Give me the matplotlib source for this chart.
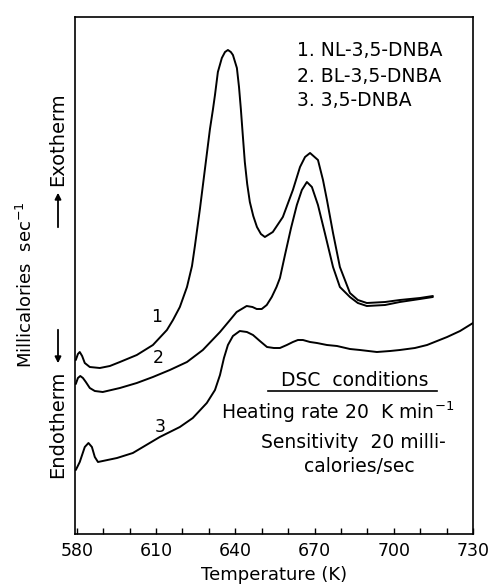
import matplotlib
matplotlib.use("Agg")
import matplotlib.pyplot as plt
from matplotlib.patches import FancyArrowPatch
from matplotlib.lines import Line2D
from matplotlib.ticker import MultipleLocator

# ---- data (temperature K, signal in arbitrary units) ----
t1 = [579.6, 580.4, 581.1, 582.0, 583.0, 584.9, 588.7, 592.5, 596.3, 602.7, 608.8, 614.1, 616.4,
      619.0, 621.7, 623.6, 624.7, 626.6, 628.5, 630.4, 631.5, 632.3, 633.4, 634.9, 636.1, 637.2,
      638.3, 639.1, 640.6, 641.4, 642.1, 642.8, 643.6, 644.5, 645.5, 646.8, 648.2, 649.7, 651.2,
      654.2, 658.0, 661.8, 664.5, 666.4, 668.3, 671.3, 673.2, 674.7, 677.0, 679.6, 683.4, 686.4,
      689.8, 696.7, 702.3, 709.9, 714.8]
y1 = [174, 180, 182, 178, 171, 167, 166, 168, 172, 179, 189, 204, 214,
      227, 247, 268, 288, 325, 365, 405, 424, 439, 462, 476, 482, 484,
      482, 479, 466, 447, 425, 400, 372, 350, 332, 318, 307, 300, 297,
      302, 317, 344, 367, 377, 381, 374, 354, 334, 301, 267, 241, 234,
      231, 232, 234, 236, 238]

t2 = [579.6, 580.4, 581.3, 582.3, 583.4, 584.9, 586.8, 589.8, 596.3, 602.7, 608.8, 615.2, 621.7,
      627.7, 634.2, 638.0, 640.5, 644.3, 646.5, 648.1, 650.0, 651.9, 653.8, 655.6, 656.9, 658.8,
      661.1, 663.3, 665.2, 667.1, 669.0, 671.3, 673.9, 677.0, 679.6, 683.4, 686.4, 689.8, 696.7,
      702.3, 709.9, 714.8]
y2 = [150, 156, 158, 156, 152, 146, 143, 142, 146, 151, 157, 164, 172,
      184, 202, 214, 222, 228, 227, 225, 225, 229, 237, 247, 256, 279,
      306, 329, 344, 352, 347, 329, 301, 267, 247, 237, 231, 228, 229,
      232, 235, 237]

t3 = [579.6, 581.1, 583.0, 584.4, 585.7, 586.8, 588.0, 595.2, 601.2, 611.4, 619.0, 623.9, 629.2,
      632.3, 634.2, 635.7, 637.2, 639.1, 641.7, 644.4, 646.7, 649.3, 652.0, 654.6, 656.9, 659.5,
      661.8, 663.7, 665.6, 668.3, 670.9, 674.7, 678.5, 683.4, 687.2, 693.6, 698.6, 702.3, 708.0,
      712.6, 720.2, 725.1, 730.0]
y3 = [64, 72, 87, 91, 87, 77, 72, 76, 81, 97, 107, 116, 131,
      144, 159, 176, 189, 198, 203, 202, 199, 193, 187, 186, 186, 189,
      192, 194, 194, 192, 191, 189, 188, 185, 184, 182, 183, 184, 186,
      189, 197, 203, 211]

curve_labels = ["1", "2", "3"]
curve_label_pos = [(610.3, 217), (610.7, 176), (611.4, 107)]
legend_lines = ["1. NL-3,5-DNBA", "2. BL-3,5-DNBA", "3. 3,5-DNBA"]
x_major = [580, 610, 640, 670, 700, 730]

W, H = 488, 585
fig = plt.figure(figsize=(W / 100, H / 100), dpi=100)
ax = fig.add_axes([75 / W, 1 - 534 / H, (473 - 75) / W, (534 - 17) / H])

for t, y in ((t1, y1), (t2, y2), (t3, y3)):
    ax.plot(t, y, color="black", lw=1.4, solid_joinstyle="round", solid_capstyle="round")

ax.set_xlim(579.3, 730)
ax.set_ylim(0, 517)
ax.set_xticks(x_major)
ax.xaxis.set_minor_locator(MultipleLocator(10))
ax.tick_params(axis="x", which="both", direction="in", length=4, width=1.0, top=False)
ax.tick_params(axis="x", which="major", labelsize=12.5, pad=6)
ax.set_yticks([])
for s in ax.spines.values():
    s.set_linewidth(1.2)


def fx(px):
    return px / W


def fy(py):
    return 1 - py / H


fig.text(fx(274), fy(575), "Temperature (K)", fontsize=13, ha="center", va="center")

for lab, (tx, ty) in zip(curve_labels, curve_label_pos):
    ax.text(tx, ty, lab, fontsize=12.5, ha="center", va="center")

for txt, py in zip(legend_lines, [50, 77, 100]):
    fig.text(fx(297), fy(py), txt, fontsize=13.5, ha="left", va="center")

fig.text(fx(355), fy(380), "DSC  conditions", fontsize=13.5, ha="center", va="center")
fig.add_artist(Line2D([fx(268), fx(437)], [fy(391), fy(391)], color="black", lw=1.2))
fig.text(fx(338), fy(412), r"Heating rate 20  K min$^{-1}$", fontsize=13.5, ha="center", va="center")
fig.text(fx(353), fy(442), "Sensitivity  20 milli-", fontsize=13.5, ha="center", va="center")
fig.text(fx(359), fy(467), "calories/sec", fontsize=13.5, ha="center", va="center")

fig.text(fx(26), fy(285), r"Millicalories  sec$^{-1}$", fontsize=13, rotation=90, ha="center", va="center")
fig.text(fx(58), fy(139), "Exotherm", fontsize=14, rotation=90, ha="center", va="center")
fig.text(fx(58), fy(424), "Endotherm", fontsize=14, rotation=90, ha="center", va="center")
fig.add_artist(FancyArrowPatch((fx(58), fy(230)), (fx(58), fy(190)),
               transform=fig.transFigure, arrowstyle="-|>", mutation_scale=9, lw=1.3, color="black"))
fig.add_artist(FancyArrowPatch((fx(58), fy(327)), (fx(58), fy(366)),
               transform=fig.transFigure, arrowstyle="-|>", mutation_scale=9, lw=1.3, color="black"))

fig.savefig("out.png", dpi=100)
